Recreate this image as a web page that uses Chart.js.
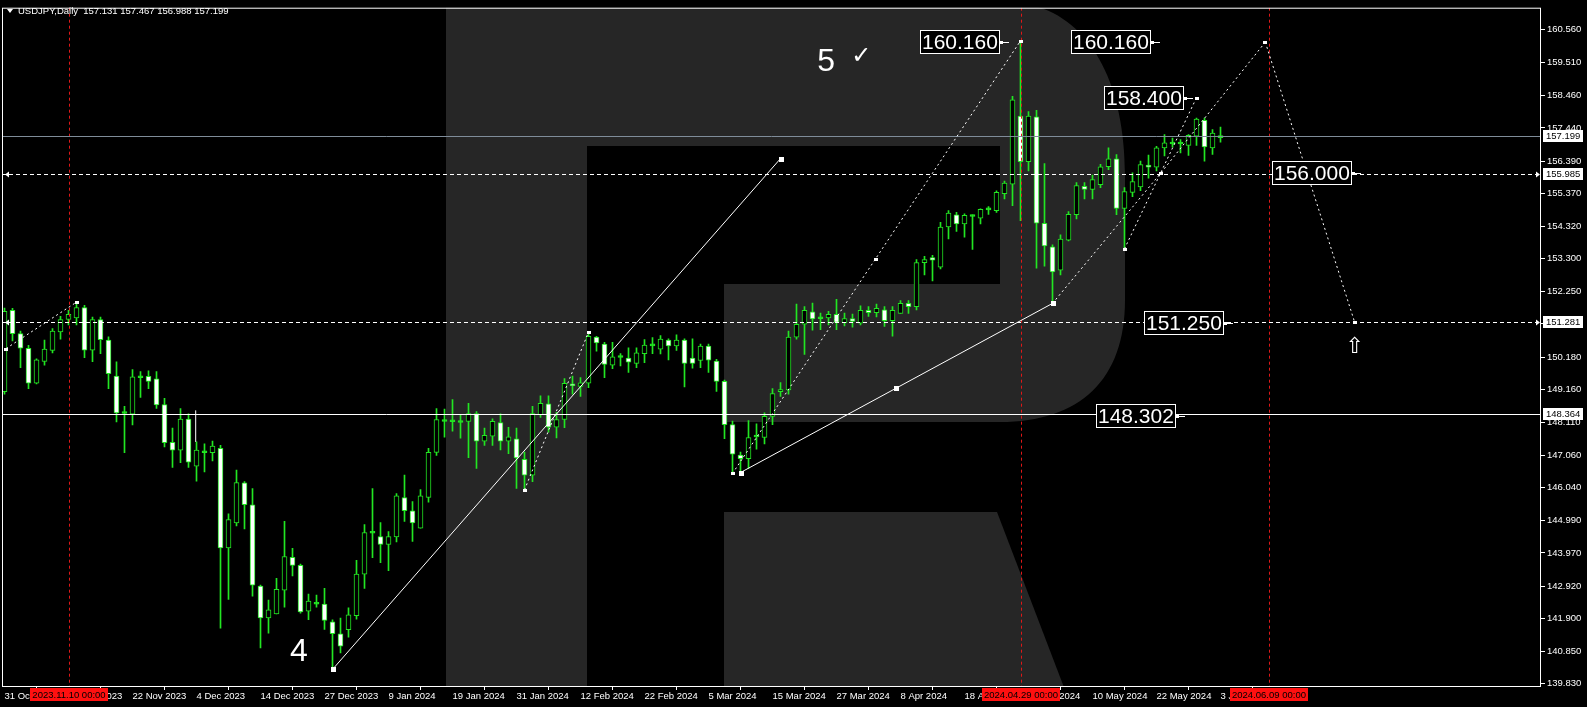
<!DOCTYPE html>
<html><head><meta charset="utf-8">
<script src="https://cdn.jsdelivr.net/npm/chart.js@4"></script>
<style>html,body{margin:0;padding:0;background:#000;overflow:hidden}canvas{display:block}</style>
</head><body>
<canvas id="c" width="1587" height="707"></canvas>
<script>
// ---- data (bar index 0 = 31 Oct 2023, trading days) ----
const open  = [149.08,151.66,150.92,150.46,149.35,150.04,150.39,150.98,151.37,151.42,151.75,150.40,151.37,150.72,149.58,148.41,148.37,149.56,149.57,149.49,148.67,147.48,147.23,148.21,146.72,147.17,147.15,147.29,144.13,144.92,146.19,145.50,142.92,141.91,142.04,142.79,143.83,143.58,142.13,142.37,142.35,141.79,141.41,141.54,141.98,143.30,144.62,144.49,144.24,144.48,145.73,145.31,144.76,145.73,147.16,148.16,148.17,148.13,148.14,148.39,147.51,147.67,148.10,147.51,147.59,146.94,146.44,148.35,148.70,147.96,148.20,149.33,149.25,149.35,150.81,150.59,149.92,150.19,150.15,149.98,150.29,150.56,150.43,150.72,150.53,150.72,150.15,150.07,150.53,150.05,149.41,148.04,147.07,146.96,147.67,147.63,148.30,149.08,149.14,150.81,151.22,151.61,151.42,151.42,151.53,151.27,151.40,151.25,151.66,151.59,151.68,151.33,151.56,151.88,151.78,153.17,153.33,153.03,154.30,154.69,154.40,154.67,154.58,154.86,154.82,155.36,155.66,157.82,156.37,157.79,154.42,153.67,152.93,153.88,154.69,155.59,155.49,155.64,156.21,156.46,154.89,155.40,155.57,156.26,156.20,156.81,156.97,156.96,156.89,157.18,157.68,156.81,157.131];
const high  = [151.73,151.72,151.00,150.55,150.12,150.72,151.08,151.47,151.66,151.94,151.82,151.45,151.45,150.82,150.03,148.62,149.78,149.72,149.74,149.72,148.87,147.93,148.55,148.38,147.49,147.43,147.52,147.38,145.21,146.60,146.23,146.01,142.95,142.48,143.17,144.97,144.12,143.62,142.67,142.64,142.85,141.85,141.91,142.23,143.74,144.87,146.01,144.93,144.65,145.85,146.44,145.60,145.98,147.29,148.55,148.53,148.83,148.33,148.71,148.45,147.93,148.22,148.38,147.95,147.93,147.17,148.62,148.95,148.95,148.43,149.50,149.58,149.53,150.97,150.84,150.65,150.65,150.29,150.47,150.47,150.73,150.80,150.86,150.76,150.88,150.76,150.76,150.59,150.59,150.11,149.45,148.15,147.17,148.17,148.06,148.41,149.18,149.37,151.00,151.86,151.78,151.89,151.57,151.63,152.01,151.57,151.54,151.80,151.78,151.86,151.78,151.78,151.97,151.97,153.27,153.37,153.40,154.45,154.82,154.77,154.72,154.69,154.88,154.95,155.45,155.76,158.44,160.20,157.96,158.00,156.31,153.74,154.05,154.79,155.71,155.71,155.95,156.29,156.81,156.60,155.55,156.02,156.39,156.58,156.86,157.23,157.12,157.07,157.23,157.75,157.75,157.39,157.467];
const low   = [149.00,150.69,149.84,149.18,149.33,149.92,150.31,150.75,151.20,151.20,150.16,150.03,150.29,149.18,148.12,147.15,148.03,148.90,149.18,148.55,147.33,146.68,146.83,146.68,146.25,146.54,146.89,141.59,142.50,144.83,144.73,142.60,140.96,141.43,142.04,142.25,143.24,142.06,141.86,142.25,141.55,140.31,140.80,141.30,141.87,142.85,143.82,143.66,143.41,144.32,144.97,144.34,144.76,145.58,147.06,147.64,147.83,147.61,146.99,146.65,147.38,147.38,147.24,147.12,146.02,145.97,146.23,148.27,147.80,147.62,147.94,149.00,148.93,149.21,150.37,149.53,149.81,149.90,149.69,149.84,150.00,150.29,150.28,150.09,150.39,149.23,149.83,149.84,149.69,149.09,147.59,146.49,146.49,146.65,147.26,147.43,148.04,148.93,149.00,150.75,150.26,151.03,151.05,151.20,151.05,151.17,151.13,151.20,151.47,151.45,151.15,150.84,151.56,151.56,151.67,152.78,152.59,152.97,153.92,154.16,153.98,153.59,154.40,154.70,154.76,155.19,154.98,154.50,156.08,153.00,153.06,151.88,152.78,153.86,154.56,155.19,155.19,155.55,156.12,154.69,153.61,155.26,155.45,155.85,156.08,156.55,156.83,156.65,156.57,156.89,156.39,156.60,156.988];
const close = [151.63,150.92,150.46,149.35,150.09,150.43,151.00,151.37,151.53,151.75,150.40,151.37,150.73,149.65,148.41,148.43,149.55,149.55,149.41,148.66,147.47,147.23,148.21,146.85,147.23,147.19,147.36,144.13,145.03,146.20,145.50,142.95,141.91,142.17,142.82,143.86,143.58,142.10,142.45,142.39,141.83,141.41,141.02,142.01,143.30,144.62,144.64,144.24,144.49,145.78,145.31,144.92,145.78,147.16,148.20,148.18,148.15,148.15,148.39,147.51,147.70,148.14,147.51,147.65,146.98,146.44,148.39,148.71,147.96,148.20,149.35,149.27,149.36,150.84,150.63,149.95,150.19,150.20,150.02,150.31,150.56,150.57,150.75,150.53,150.72,149.98,149.98,150.53,150.08,149.41,148.04,147.10,146.96,147.63,147.68,148.30,149.02,149.15,150.81,151.22,151.66,151.39,151.43,151.53,151.28,151.40,151.31,151.66,151.59,151.72,151.33,151.66,151.88,151.78,153.17,153.27,153.25,154.30,154.74,154.40,154.67,154.66,154.86,154.89,155.40,155.69,158.33,156.37,157.82,154.42,153.70,152.88,153.92,154.70,155.61,155.49,155.80,156.21,156.46,154.89,155.42,155.74,156.28,156.20,156.81,156.97,156.96,156.97,157.21,157.72,156.84,157.28,157.199];

const tickIndex  = [0,8,16,24,32,40,48,56,64,72,80,88,96,104,112,120,128,136,144,152];
const tickLabels = ['31 Oct 2023','10 Nov 2023','22 Nov 2023','4 Dec 2023','14 Dec 2023','27 Dec 2023','9 Jan 2024','19 Jan 2024','31 Jan 2024','12 Feb 2024','22 Feb 2024','5 Mar 2024','15 Mar 2024','27 Mar 2024','8 Apr 2024','18 Apr 2024','30 Apr 2024','10 May 2024','22 May 2024','3 Jun 2024'];
const priceTicks = [160.560,159.510,158.460,157.440,156.390,155.370,154.320,153.300,152.250,151.230,150.180,149.160,148.110,147.060,146.040,144.990,143.970,142.920,141.900,140.850,139.830];

// horizontal levels
const dashedLevels = [155.985, 151.281];
const solidLevel = 148.364;
const bidLevel = 157.199;
// red vertical markers (bar index, label)
const vMarkIndex = [8, 127, 158];
const vMarkText  = ['2023.11.10 00:00','2024.04.29 00:00','2024.06.09 00:00'];
// boxed price labels [barIndex(left edge), price, text]
const boxLabelIndex = [114.4, 133.3, 137.4, 158.4, 142.4, 136.4];
const boxLabelPrice = [160.160, 160.160, 158.400, 156.000, 151.250, 148.302];
const boxLabelText  = ['160.160','160.160','158.400','156.000','151.250','148.302'];
// solid trend lines [x1,p1,x2,p2]
const solidLines = [[41,140.28,97,156.47],[92,146.52,131,151.88],[23.9,148.49,23.9,147.49]];
const solidMarkers = [[41,140.28],[97,156.47],[92,146.52],[111.4,149.21],[131,151.88]];
// dotted projections (polylines)
const dottedLines = [
  [[0.2,150.45],[9,151.92]],
  [[65,145.97],[73,150.97]],
  [[91,146.49],[108.9,153.30],[127,160.20]],
  [[131,151.88],[144.5,156.00],[157.6,160.16]],
  [[140,153.61],[149,158.40]],
  [[157.6,160.16],[168.75,151.30]]
];
const waveText = [['5',102.7,159.52],['4',36.8,140.83]];

const GREEN = '#22e622';
const isDoji = (i)=>Math.abs(open[i]-close[i])<0.05;
const wickData = open.map((o,i)=>({x:i,y:[low[i],high[i]]}));
const bodyData = open.map((o,i)=>{
  let a=Math.min(o,close[i]), b=Math.max(o,close[i]);
  if (isDoji(i)) { const m=(a+b)/2; a=m-0.03; b=m+0.03; }
  return {x:i,y:[a,b]};
});
const bodyColor = open.map((o,i)=>isDoji(i)?GREEN:(close[i]>=o?'#000':'#fff'));

const FONT_S = '9.5px "Liberation Sans", Arial, sans-serif';

const overlay = {
  id:'overlay',
  beforeDatasetsDraw(chart){
    const {ctx, chartArea:a} = chart;
    ctx.save();
    ctx.beginPath(); ctx.rect(a.left,a.top,a.right-a.left,a.bottom-a.top); ctx.clip();
    // watermark R
    ctx.fillStyle='#262626';
    ctx.beginPath();
    ctx.moveTo(446,2); ctx.lineTo(1005,2);
    ctx.bezierCurveTo(1080,2,1125,70,1125,175);
    ctx.lineTo(1125,300);
    ctx.bezierCurveTo(1125,380,1080,422,1000,422);
    ctx.lineTo(724,422); ctx.lineTo(724,284); ctx.lineTo(1000,284); ctx.lineTo(1000,146);
    ctx.lineTo(587,146); ctx.lineTo(587,690); ctx.lineTo(446,690); ctx.closePath();
    ctx.fill();
    ctx.beginPath();
    ctx.moveTo(724,512); ctx.lineTo(997,512); ctx.lineTo(1065,690); ctx.lineTo(724,690); ctx.closePath();
    ctx.fill();
    ctx.restore();
  },
  afterDatasetsDraw(chart){
    const {ctx, chartArea:a, scales:{x,y}} = chart;
    ctx.save();
    ctx.beginPath(); ctx.rect(a.left,a.top,a.right-a.left,a.bottom-a.top); ctx.clip();
    // red verticals
    ctx.strokeStyle='#e01818'; ctx.lineWidth=1; ctx.setLineDash([3,3]);
    vMarkIndex.forEach(i=>{const px=Math.round(x.getPixelForValue(i))+0.5;ctx.beginPath();ctx.moveTo(px,a.top);ctx.lineTo(px,a.bottom);ctx.stroke();});
    // levels
    ctx.strokeStyle='#fff'; ctx.setLineDash([4,3]);
    ctx.fillStyle='#fff';
    dashedLevels.forEach(p=>{const py=Math.round(y.getPixelForValue(p))+0.5;ctx.beginPath();ctx.moveTo(a.left,py);ctx.lineTo(a.right,py);ctx.stroke();
      ctx.beginPath();ctx.moveTo(a.left+3,py);ctx.lineTo(a.left+7,py-3);ctx.lineTo(a.left+7,py+3);ctx.closePath();ctx.fill();
      ctx.beginPath();ctx.moveTo(a.right-1,py);ctx.lineTo(a.right-5,py-3);ctx.lineTo(a.right-5,py+3);ctx.closePath();ctx.fill();});
    ctx.setLineDash([]);
    let py=Math.round(y.getPixelForValue(solidLevel))+0.5;
    ctx.beginPath();ctx.moveTo(a.left,py);ctx.lineTo(a.right,py);ctx.stroke();
    ctx.strokeStyle='#7f8c99';
    py=Math.round(y.getPixelForValue(bidLevel))+0.5;
    ctx.beginPath();ctx.moveTo(a.left,py);ctx.lineTo(a.right,py);ctx.stroke();
    // solid trend lines
    ctx.strokeStyle='#fff'; ctx.lineWidth=1;
    solidLines.forEach(l=>{ctx.beginPath();ctx.moveTo(x.getPixelForValue(l[0]),y.getPixelForValue(l[1]));ctx.lineTo(x.getPixelForValue(l[2]),y.getPixelForValue(l[3]));ctx.stroke();});
    solidMarkers.forEach(m=>{ctx.fillRect(Math.round(x.getPixelForValue(m[0]))-2,Math.round(y.getPixelForValue(m[1]))-2,5,5);});
    // dotted
    ctx.setLineDash([2,3]);
    dottedLines.forEach(pl=>{ctx.beginPath();pl.forEach((pt,k)=>{const X=x.getPixelForValue(pt[0]),Y=y.getPixelForValue(pt[1]);k?ctx.lineTo(X,Y):ctx.moveTo(X,Y);});ctx.stroke();
      pl.forEach(pt=>{ctx.fillRect(Math.round(x.getPixelForValue(pt[0]))-2,Math.round(y.getPixelForValue(pt[1]))-1,4,3);});});
    ctx.setLineDash([]);
    // boxed labels
    ctx.font='21px "Liberation Sans", Arial, sans-serif'; ctx.textBaseline='middle'; ctx.textAlign='left';
    boxLabelText.forEach((t,k)=>{
      const lx=Math.round(x.getPixelForValue(boxLabelIndex[k])), cy=Math.round(y.getPixelForValue(boxLabelPrice[k]));
      const w=Math.ceil(ctx.measureText(t).width)+3, h=23;
      ctx.fillStyle='#000'; ctx.fillRect(lx,cy-11,w,h);
      ctx.strokeStyle='#fff'; ctx.strokeRect(lx+0.5,cy-11.5,w,h);
      ctx.fillStyle='#fff'; ctx.fillText(t,lx+2,cy+1);
      ctx.beginPath(); ctx.moveTo(lx+w,cy+0.5); ctx.lineTo(lx+w+10,cy+0.5); ctx.stroke();
      ctx.fillRect(lx+w+1,cy-1,3,3);
    });
    // wave labels
    ctx.font='32px "Liberation Sans", Arial, sans-serif'; ctx.textAlign='center'; ctx.fillStyle='#fff';
    waveText.forEach(w=>ctx.fillText(w[0],x.getPixelForValue(w[1]),y.getPixelForValue(w[2])));
    ctx.font='24px "DejaVu Sans", sans-serif';
    ctx.fillText('\u2713',x.getPixelForValue(107.1),y.getPixelForValue(159.7));
    ctx.font='22px "DejaVu Sans", sans-serif';
    ctx.fillText('\u21e7',x.getPixelForValue(168.75),y.getPixelForValue(150.5));
    ctx.restore();
  },
  afterDraw(chart){
    const {ctx, chartArea:a, scales:{x,y}} = chart;
    ctx.save();
    ctx.strokeStyle='#fff'; ctx.lineWidth=1;
    ctx.strokeRect(a.left+0.5,a.top+0.5,a.right-a.left-1,a.bottom-a.top);
    // axis price boxes
    ctx.font=FONT_S; ctx.textBaseline='middle'; ctx.textAlign='left';
    [bidLevel, dashedLevels[0], dashedLevels[1], solidLevel].forEach(p=>{
      const cy=Math.round(y.getPixelForValue(p));
      ctx.fillStyle='#fff'; ctx.fillRect(a.right+2,cy-6,40,12);
      ctx.fillStyle='#000'; ctx.fillText(p.toFixed(3),a.right+5,cy+0.5);
    });
    // red time boxes
    vMarkIndex.forEach((i,k)=>{
      const px=Math.round(x.getPixelForValue(i));
      ctx.fillStyle='#ff1010'; ctx.fillRect(px-39,a.bottom+2,78,13);
      ctx.fillStyle='#000'; ctx.textAlign='center'; ctx.fillText(vMarkText[k],px,a.bottom+9);
    });
    // title
    ctx.fillStyle='#fff'; ctx.textAlign='left';
    ctx.beginPath(); ctx.moveTo(7,9); ctx.lineTo(13,9); ctx.lineTo(10,13); ctx.closePath(); ctx.fill();
    ctx.fillText('USDJPY,Daily  '+[open[152],high[152],low[152],close[152]].map(v=>v.toFixed(3)).join(' '),18,11);
    ctx.restore();
  }
};

new Chart(document.getElementById('c'),{
  type:'bar',
  data:{datasets:[
    {data:wickData, backgroundColor:GREEN, barThickness:1, grouped:false, order:2},
    {data:bodyData, backgroundColor:bodyColor, borderColor:GREEN, borderWidth:1, borderSkipped:false, barThickness:5, grouped:false, order:1}
  ]},
  options:{
    responsive:false, animation:false, devicePixelRatio:1,
    layout:{padding:{left:2,top:2,right:0,bottom:0}},
    plugins:{legend:{display:false},tooltip:{enabled:false}},
    scales:{
      x:{type:'linear', min:-0.3125, max:192.0625, offset:false,
        afterBuildTicks:s=>{s.ticks=tickIndex.map(v=>({value:v}));},
        afterFit:s=>{s.height=21;},
        grid:{display:true,drawOnChartArea:false,drawTicks:true,tickLength:4,color:'#fff'},
        border:{display:false},
        ticks:{autoSkip:false,maxRotation:0,align:'start',padding:1,color:'#fff',font:{family:'"Liberation Sans", Arial',size:9.5},
          callback:(v)=>{const k=tickIndex.indexOf(v);return k>=0?tickLabels[k]:'';}}
      },
      y:{type:'linear', position:'right', min:139.755, max:161.251,
        afterBuildTicks:s=>{s.ticks=priceTicks.map(v=>({value:v}));},
        afterFit:s=>{s.width=46;},
        grid:{display:true,drawOnChartArea:false,drawTicks:true,tickLength:4,color:'#fff'},
        border:{display:false},
        ticks:{autoSkip:false,padding:2,color:'#fff',font:{family:'"Liberation Sans", Arial',size:9.5},callback:v=>v.toFixed(3)}
      }
    }
  },
  plugins:[overlay]
});
</script>
</body></html>
